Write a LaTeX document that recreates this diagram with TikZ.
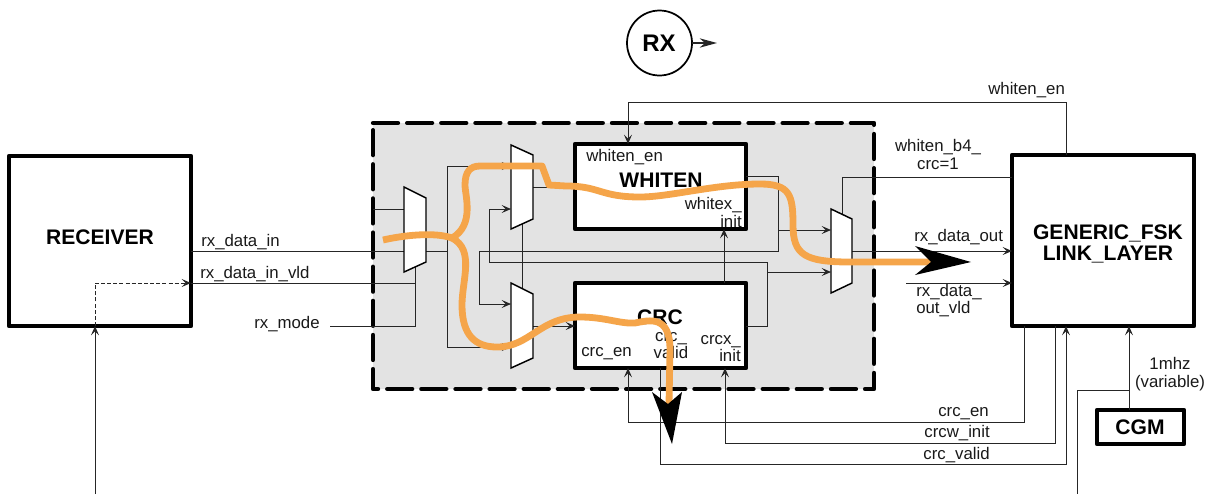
\documentclass[tikz,border=0pt]{standalone}
\usepackage{fontspec}
\setmainfont{Liberation Sans}
\usetikzlibrary{arrows.meta}
\definecolor{orangeflow}{HTML}{F5A54A}
\definecolor{panelgray}{HTML}{E3E3E3}
\tikzset{
  x=0.75pt,y=-0.75pt,
  blockbox/.style={draw=black,line width=3.3pt,fill=white,line join=round,inner sep=0pt,outer sep=0pt},
  wire/.style={draw=black!85,line width=0.75pt},
  arr/.style={wire,-{Stealth[length=7pt,width=6pt,inset=3pt]}},
  muxshape/.style={draw=black,line width=1.1pt,fill=white,line join=miter},
  lbl/.style={font=\fontsize{12.6}{14}\selectfont,inner sep=0pt,text=black!90,align=center},
  title/.style={font=\fontsize{15.8}{16}\selectfont\bfseries,inner sep=0pt,align=center},
  flow/.style={draw=orangeflow,line width=5.1pt,line join=round},
  bigtip/.style={fill=black,draw=none},
}
\begin{document}
\begin{tikzpicture}
\useasboundingbox (0,0) rectangle (1209,494);
% panel
\fill[panelgray] (373,123) rectangle (874,389);
\draw[black,line width=3.2pt,dash pattern=on 18.75pt off 6.85pt,line cap=round,line join=round] (373,123) -- (874,123) -- (874,389) -- (373,389) -- (373,130);
% named coordinates
\coordinate (m1sel) at (415,267);
\coordinate (m1a) at (404,209);
\coordinate (m1b) at (404,251);
\coordinate (m1o) at (426,251);
\coordinate (j1) at (447,251);
\coordinate (j1t) at (447,166);
\coordinate (j1b) at (447,347);
\coordinate (m2a) at (511,166);
\coordinate (m2b) at (511,209);
\coordinate (m2o) at (533,187);
\coordinate (m2s) at (522,224);
\coordinate (m3a) at (511,304);
\coordinate (m3b) at (511,347);
\coordinate (m3o) at (533,326);
\coordinate (m3s) at (522,288);
\coordinate (m4a) at (831,230);
\coordinate (m4b) at (831,272);
\coordinate (m4o) at (852,251);
\coordinate (m4s) at (842,214);
% blocks
\node[blockbox,anchor=north west,minimum width=136.5pt,minimum height=127.5pt] (rcv) at (9,156) {};
\node[title] (rcvt) at (100,237) {RECEIVER};
\node[blockbox,anchor=north west,minimum width=136.5pt,minimum height=128.25pt] (fsk) at (1012,155) {};
\node[title] (fskt) at (1108,244) {GENERIC\_FSK\\LINK\_LAYER};
\node[blockbox,anchor=north west,minimum width=128.25pt,minimum height=63.75pt] (wht) at (575,144) {};
\node[blockbox,anchor=north west,minimum width=128.25pt,minimum height=63.75pt] (crc) at (575,283) {};
\node[blockbox,anchor=north west,minimum width=65.25pt,minimum height=25.5pt] (cgm) at (1097,410) {};
\node[title] (cgmt) at (1140,427) {CGM};
\node[title] (whtt) at (661,180) {WHITEN};
\node[title] (crct) at (660,317) {CRC};
% wires
\coordinate (rcvo1) at (191,251);
\coordinate (rcvo2) at (191,283);
\coordinate (modeS) at (330,326);
\coordinate (c1) at (415,283);
\coordinate (c2) at (415,326);
\coordinate (edgeL) at (373,209);
\draw[wire] (rcvo1) -- (m1b);
\draw[wire] (rcvo2) -- (c1);
\draw[wire] (modeS) -- (c2) -- (m1sel);
\draw[wire] (edgeL) -- (m1a);
\draw[wire] (m1o) -- (j1);
\draw[wire] (j1t) -- (j1b);
\draw[arr] (j1t) -- (m2a);
\draw[arr] (j1b) -- (m3b);
\coordinate (x489t) at (489,209);
\coordinate (x489b) at (489,262);
\coordinate (x767a) at (767,262);
\coordinate (x767b) at (767,326);
\coordinate (x767m) at (767,272);
\coordinate (crcR) at (746,326);
\draw[arr] (crcR) -- (x767b) -- (x767a) -- (x489b) -- (x489t) -- (m2b);
\draw[arr] (x767m) -- (m4b);
\coordinate (x479t) at (479,251);
\coordinate (x479b) at (479,304);
\coordinate (x778a) at (778,251);
\coordinate (x778b) at (778,176);
\coordinate (x778m) at (778,230);
\coordinate (whtR) at (746,176);
\draw[arr] (whtR) -- (x778b) -- (x778a) -- (x479t) -- (x479b) -- (m3a);
\draw[arr] (x778m) -- (m4a);
\coordinate (wi) at (575,187);
\coordinate (ci) at (575,326);
\draw[wire] (m2o) -- (wi);
\draw[arr] (m3o) -- (ci);
\draw[wire] (m2s) -- (m3s);
\coordinate (selT) at (842,177);
\coordinate (fskS) at (1012,177);
\draw[wire] (m4s) -- (selT) -- (fskS);
\coordinate (fsk1) at (1012,251);
\coordinate (fsk2) at (1012,283);
\coordinate (vldS) at (906,283);
\draw[arr] (m4o) -- (fsk1);
\draw[arr] (vldS) -- (fsk2);
% whiten_en
\coordinate (we1) at (1066,155);
\coordinate (we2) at (1066,102);
\coordinate (we3) at (628,102);
\coordinate (we4) at (628,144);
\draw[arr] (we1) -- (we2) -- (we3) -- (we4);
% crc_en
\coordinate (ce1) at (1024,326);
\coordinate (ce2) at (1024,422);
\coordinate (ce3) at (628,422);
\coordinate (ce4) at (628,368);
\draw[arr] (ce1) -- (ce2) -- (ce3) -- (ce4);
\coordinate (ci1) at (1055,326);
\coordinate (ci2) at (1055,443);
\coordinate (ci3) at (725,443);
\coordinate (ci4) at (725,368);
\draw[arr] (ci1) -- (ci2) -- (ci3) -- (ci4);
\coordinate (cv1) at (660,368);
\coordinate (cv2) at (660,464);
\coordinate (cv3) at (1066,464);
\coordinate (cv4) at (1066,326);
\draw[arr] (cv1) -- (cv2) -- (cv3) -- (cv4);
\coordinate (wx1) at (724,283);
\coordinate (wx2) at (724,229);
\draw[arr] (wx1) -- (wx2);
% clock
\coordinate (ck1) at (1129,410);
\coordinate (ck2) at (1129,326);
\coordinate (ck3) at (1129,390);
\coordinate (ck4) at (1077,390);
\coordinate (ck5) at (1077,494);
\draw[arr] (ck1) -- (ck2);
\draw[wire] (ck3) -- (ck4) -- (ck5);
\coordinate (ri1) at (95,494);
\coordinate (ri2) at (95,326);
\coordinate (ri3) at (95,283);
\coordinate (ri4) at (191,283);
\draw[arr] (ri1) -- (ri2);
\draw[wire,dash pattern=on 3pt off 1.6pt,-{Stealth[length=7pt,width=6pt,inset=3pt]}] (ri2) -- (ri3) -- (ri4);
% muxes
\draw[muxshape] (404,187) -- (426,198) -- (426,262) -- (404,272) -- cycle;
\draw[muxshape] (511,145) -- (533,155) -- (533,219) -- (511,229) -- cycle;
\draw[muxshape] (511,283) -- (533,294) -- (533,358) -- (511,368) -- cycle;
\draw[muxshape] (831,209) -- (852,219) -- (852,283) -- (831,293) -- cycle;
% labels
\node[lbl,anchor=west] (l1) at (201,242.5) {rx\_data\_in};
\node[lbl,anchor=west] (l2) at (200,274.5) {rx\_data\_in\_vld};
\node[lbl,anchor=west] (l3) at (254,324) {rx\_mode};
\node[lbl,anchor=west] (l4) at (586,157) {whiten\_en};
\node[lbl,align=right,anchor=east] (l5) at (742,212.5) {whitex\_\\[-1pt]init};
\node[lbl,anchor=west] (l6) at (581,354) {crc\_en};
\node[lbl] (l7) at (671,345.5) {crc\_\\[-1pt]valid};
\node[lbl,align=right,anchor=east] (l8) at (741,348.5) {crcx\_\\[-1pt]init};
\node[lbl,anchor=west] (l9) at (988,90.5) {whiten\_en};
\node[lbl,anchor=north] (l10) at (938,139) {whiten\_b4\_\\[-0.6pt]crc=1};
\node[lbl,anchor=west] (l11) at (914,237) {rx\_data\_out};
\node[lbl,align=left,anchor=north west] (l12) at (916,284) {rx\_data\_\\[-1pt]out\_vld};
\node[lbl,anchor=east] (l13) at (989,414) {crc\_en};
\node[lbl,anchor=east] (l14) at (990,433) {crcw\_init};
\node[lbl,anchor=east] (l15) at (990,455) {crc\_valid};
\node[lbl] (l16) at (1170,374) {1mhz\\[-1pt](variable)};
% orange flow
\coordinate (fs) at (383,240);
\coordinate (fj) at (452,238);
\draw[flow] (fs) .. controls (405,235) and (435,232) .. (fj);
\draw[flow] (fj) .. controls (475,225) and (465,195) .. (465,185) .. controls (465,172) and (470,166) .. (480,166) -- (542,166) -- (549,185) -- (566,186) .. controls (600,186) and (600,197) .. (640,197) .. controls (670,197) and (715,184) .. (760,184) .. controls (790,184) and (793,195) .. (793,225) .. controls (793,255) and (805,262) .. (850,262) -- (931,262);
\draw[flow] (fj) .. controls (475,250) and (462,280) .. (462,305) .. controls (462,335) and (475,347) .. (497,347) .. controls (530,347) and (540,317) .. (580,317) .. controls (605,317) and (620,324) .. (635,323) .. controls (650,320) and (670,315) .. (670,350) -- (669,404);
% big tips
\coordinate (t1) at (971,262);
\coordinate (t1a) at (915,246);
\coordinate (t1n) at (931,262);
\coordinate (t1b) at (915,275);
\fill[bigtip] (t1) -- (t1a) -- (t1n) -- (t1b) -- cycle;
\coordinate (t2) at (672,444);
\coordinate (t2a) at (652,392);
\coordinate (t2n) at (668,404);
\coordinate (t2b) at (682,392);
\fill[bigtip] (t2) -- (t2a) -- (t2n) -- (t2b) -- cycle;
% RX
\node[draw=black,line width=1.3pt,circle,minimum size=48.75pt,inner sep=0pt,outer sep=0pt,fill=white] (rx) at (659.5,43) {};
\node[title,font=\fontsize{18}{20}\selectfont\bfseries] (rxt) at (659,43) {RX};
\coordinate (rxe) at (717,43);
\draw[wire,line width=1pt,-{Stealth[length=13pt,width=7pt,inset=4pt]}] (rx.east) -- (rxe);
\end{tikzpicture}
\end{document}
